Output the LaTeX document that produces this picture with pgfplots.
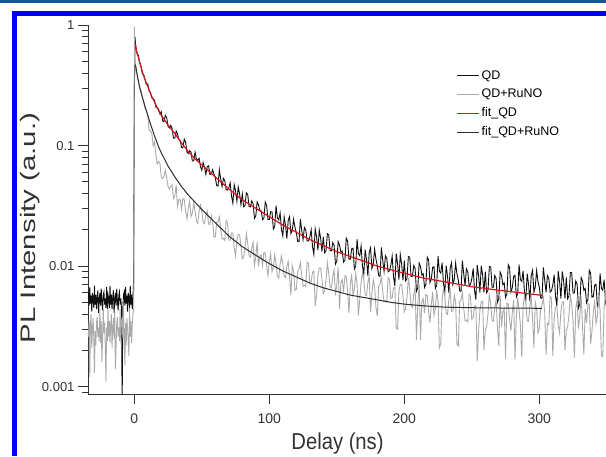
\documentclass[border=0pt]{standalone}
\usepackage{pgfplots}
\pgfplotsset{compat=1.18}
\usepackage{fontspec}
\setmainfont{Liberation Sans}
\usepackage{graphicx}
\definecolor{rawgray}{RGB}{170,170,170}
\definecolor{rawblack}{RGB}{15,15,15}
\definecolor{fitred}{RGB}{205,25,30}
\definecolor{fitdark}{RGB}{45,45,45}
\definecolor{axisgray}{RGB}{50,50,50}
\definecolor{frameblue}{RGB}{0,0,245}
\definecolor{barblue}{RGB}{20,85,155}
\begin{document}
\begin{tikzpicture}
\useasboundingbox (0pt,0pt) rectangle (606pt,456pt);
\fill[barblue] (0pt,453pt) rectangle (606pt,456pt);
\fill[frameblue] (12pt,440pt) rectangle (606pt,445pt);
\fill[frameblue] (12pt,0pt) rectangle (17pt,445pt);
\begin{axis}[
  width=518pt, height=369pt, scale only axis,
  at={(88pt,62pt)}, anchor=south west,
  xmin=-34.3, xmax=349.4,
  ymode=log, ymin=0.00087, ymax=1,
  axis x line*=bottom, axis y line*=left,
  axis line style={axisgray, line width=0.8pt},
  every tick/.style={axisgray, line width=0.8pt},
  tick align=outside,
  major tick length=10pt, minor tick length=5.5pt,
  xtick={0,100,200,300}, xticklabels={0,100,200,300},
  xminorticks=false,
  ytick={0.001,0.01,0.1,1}, yticklabels={0.001,0.01,0.1,1},
  minor ytick={0.0009,0.002,0.003,0.004,0.005,0.006,0.007,0.008,0.009,0.02,0.03,0.04,0.05,0.06,0.07,0.08,0.09,0.2,0.3,0.4,0.5,0.6,0.7,0.8,0.9},
  /pgf/number format/assume math mode=true,
  xticklabel style={font=\fontsize{14}{14}\selectfont, text=axisgray, yshift=-6pt},
  yticklabel style={font=\fontsize{13}{13}\selectfont, text=axisgray},
  xlabel={\scalebox{0.88}[1]{Delay (ns)}},
  xlabel style={font=\fontsize{23}{23}\selectfont, text=axisgray, at={(axis description cs:0.4817,-0.1355)}, anchor=center},
  ylabel={\scalebox{1.4}[1]{PL Intensity (a.u.)}},
  ylabel style={font=\fontsize{21}{21}\selectfont, text=axisgray, at={(axis description cs:-0.112,0.45)}, anchor=center},
  legend style={draw=none, fill=none, at={(axis description cs:0.7104,0.883)}, anchor=north west, inner sep=0pt,
    font=\fontsize{12.5}{13}\selectfont, row sep=4.5pt},
  legend cell align=left,
]
\addplot[rawblack, line width=0.9pt, legend image code/.code={\draw[draw=rawblack, line width=1.4pt] (0pt,0pt) -- (22pt,0pt);}] coordinates {
(-34,0.0061)(-33.5,0.0047)(-33,0.0067)(-32.5,0.0049)(-32,0.0057)(-31.5,0.0042)(-31,0.0060)(-30.5,0.0054)(-30,0.0045)(-29.5,0.0069)
(-29,0.0048)(-28.5,0.0058)(-28,0.0044)(-27.5,0.0055)(-27,0.0063)(-26.5,0.0041)(-26,0.0052)(-25.5,0.0060)(-25,0.0047)(-24.5,0.0065)
(-24,0.0051)(-23.5,0.0043)(-23,0.0057)(-22.5,0.0061)(-22,0.0048)(-21.5,0.0054)(-21,0.0045)(-20.5,0.0067)(-20,0.0044)(-19.5,0.0058)
(-19,0.0054)(-18.5,0.0045)(-18,0.0069)(-17.5,0.0048)(-17,0.0058)(-16.5,0.0044)(-16,0.0055)(-15.5,0.0063)(-15,0.0041)(-14.5,0.0052)
(-14,0.0060)(-13.5,0.0047)(-13,0.0065)(-12.5,0.0051)(-12,0.0043)(-11.5,0.0057)(-11,0.0061)(-10.5,0.0048)(-10,0.0054)(-9.5,0.0045)
(-9,0.0007)(-8.5,0.0044)(-8,0.0058)(-7.5,0.0061)(-7,0.0047)(-6.5,0.0067)(-6,0.0049)(-5.5,0.0057)(-5,0.0042)(-4.5,0.0060)
(-4,0.0054)(-3.5,0.0045)(-3,0.0069)(-2.5,0.0048)(-2,0.0058)(-1.5,0.0044)(-1,0.0055)(-0.5,0.0075)(0,0.25)(0.5,0.80)
(1,0.679)(2,0.578)(3,0.560)(4,0.485)(5,0.453)(6,0.393)(7,0.386)(8,0.352)(9,0.321)(10,0.324)
(11,0.284)(12,0.274)(13,0.248)(14,0.244)(15,0.237)(16,0.208)(17,0.206)(18,0.200)(19,0.183)
(20,0.191)(21,0.160)(22,0.158)(23,0.178)(24,0.170)(25,0.144)(26,0.140)(27,0.147)(28,0.139)(29,0.115)(30,0.115)(31,0.132)(32,0.124)(33,0.113)(34,0.110)(35,0.0966)(36,0.0957)(37,0.113)(38,0.107)(39,0.0883)
(40,0.0861)(41,0.0904)(42,0.0883)(43,0.0745)(44,0.0745)(45,0.0881)(46,0.0776)(47,0.0752)(48,0.0785)(49,0.0670)(50,0.0624)(51,0.0724)(52,0.0661)(53,0.0578)(54,0.0668)(55,0.0679)(56,0.0575)(57,0.0581)(58,0.0631)(59,0.0578)
(60,0.0540)(61,0.0468)(62,0.0461)(63,0.0631)(64,0.0530)(65,0.0457)(66,0.0535)(67,0.0513)(68,0.0433)(69,0.0427)(70,0.0445)(71,0.0491)(72,0.0382)(73,0.0333)(74,0.0474)(75,0.0422)(76,0.0345)(77,0.0454)(78,0.0398)(79,0.0323)
(80,0.0396)(81,0.0311)(82,0.0319)(83,0.0406)(84,0.0393)(85,0.0313)(86,0.0310)(87,0.0348)(88,0.0330)(89,0.0249)(90,0.0261)(91,0.0341)(92,0.0321)(93,0.0288)(94,0.0288)(95,0.0243)(96,0.0250)(97,0.0340)(98,0.0319)(99,0.0244)
(100,0.0244)(101,0.0283)(102,0.0282)(103,0.0203)(104,0.0212)(105,0.0318)(106,0.0251)(107,0.0242)(108,0.0276)(109,0.0202)(110,0.0178)(111,0.0256)(112,0.0218)(113,0.0169)(114,0.0240)(115,0.0258)(116,0.0186)(117,0.0197)(118,0.0245)(119,0.0210)
(120,0.0190)(121,0.0161)(122,0.0159)(123,0.0245)(124,0.0199)(125,0.0166)(126,0.0209)(127,0.0200)(128,0.0162)(129,0.0162)(130,0.0174)(131,0.0201)(132,0.0146)(133,0.0125)(134,0.0204)(135,0.0175)(136,0.0136)(137,0.0199)(138,0.0171)(139,0.0132)
(140,0.0176)(141,0.0129)(142,0.0134)(143,0.0186)(144,0.0182)(145,0.0135)(146,0.0134)(147,0.0157)(148,0.0149)(149,0.0104)(150,0.0110)(151,0.0160)(152,0.0150)(153,0.0131)(154,0.0133)(155,0.0108)(156,0.0112)(157,0.0171)(158,0.0161)(159,0.0114)
(160,0.0114)(161,0.0139)(162,0.0141)(163,0.00946)(164,0.0100)(165,0.0167)(166,0.0127)(167,0.0122)(168,0.0147)(169,0.0100)(170,0.00859)(171,0.0137)(172,0.0113)(173,0.00832)(174,0.0130)(175,0.0142)(176,0.00955)(177,0.0104)(178,0.0138)(179,0.0114)
(180,0.0101)(181,0.00834)(182,0.00824)(183,0.0143)(184,0.0112)(185,0.00906)(186,0.0122)(187,0.0116)(188,0.00899)(189,0.00914)(190,0.0101)(191,0.0121)(192,0.00820)(193,0.00687)(194,0.0127)(195,0.0105)(196,0.00773)(197,0.0125)(198,0.0105)(199,0.00764)
(200,0.0111)(201,0.00755)(202,0.00793)(203,0.0120)(204,0.0119)(205,0.00822)(206,0.00824)(207,0.0101)(208,0.00957)(209,0.00619)(210,0.00662)(211,0.0106)(212,0.00995)(213,0.00843)(214,0.00865)(215,0.00667)(216,0.00705)(217,0.0119)(218,0.0113)(219,0.00731)
(220,0.00785)(221,0.00975)(222,0.00991)(223,0.00653)(224,0.00695)(225,0.0121)(226,0.00908)(227,0.00877)(228,0.0107)(229,0.00715)(230,0.00610)(231,0.0101)(232,0.00824)(233,0.00600)(234,0.00971)(235,0.0107)(236,0.00705)(237,0.00774)(238,0.0106)(239,0.00863)
(240,0.00767)(241,0.00625)(242,0.00618)(243,0.0111)(244,0.00865)(245,0.00690)(246,0.00951)(247,0.00899)(248,0.00690)(249,0.00705)(250,0.00785)(251,0.00957)(252,0.00634)(253,0.00528)(254,0.0102)(255,0.00839)(256,0.00604)(257,0.0101)(258,0.00847)(259,0.00605)
(260,0.00902)(261,0.00601)(262,0.00634)(263,0.00993)(264,0.00986)(265,0.00667)(266,0.00670)(267,0.00837)(268,0.00791)(269,0.00500)(270,0.00537)(271,0.00893)(272,0.00836)(273,0.00702)(274,0.00724)(275,0.00551)(276,0.00585)(277,0.0103)(278,0.00975)(279,0.00612)
(280,0.00664)(281,0.00824)(282,0.00839)(283,0.00555)(284,0.00590)(285,0.0103)(286,0.00774)(287,0.00748)(288,0.00914)(289,0.00612)(290,0.00522)(291,0.00865)(292,0.00710)(293,0.00516)(294,0.00837)(295,0.00925)(296,0.00610)(297,0.00671)(298,0.00918)(299,0.00750)
(300,0.00668)(301,0.00546)(302,0.00541)(303,0.00975)(304,0.00759)(305,0.00607)(306,0.00837)(307,0.00794)(308,0.00610)(309,0.00624)(310,0.00697)(311,0.00849)(312,0.00564)(313,0.00469)(314,0.00908)(315,0.00746)(316,0.00538)(317,0.00904)(318,0.00755)(319,0.00540)
(320,0.00805)(321,0.00537)(322,0.00568)(323,0.00887)(324,0.00883)(325,0.00597)(326,0.00601)(327,0.00752)(328,0.00710)(329,0.00449)(330,0.00483)(331,0.00804)(332,0.00753)(333,0.00631)(334,0.00652)(335,0.00497)(336,0.00527)(337,0.00925)(338,0.00879)(339,0.00552)
(340,0.00558)(341,0.00695)(342,0.00708)(343,0.00467)(344,0.00498)(345,0.00869)(346,0.00653)(347,0.00632)(348,0.00771)(349,0.00516)(350,0.00442)
};
\addlegendentry{QD}
\addplot[rawgray, line width=0.9pt, legend image code/.code={\draw[draw=rawgray, line width=0.9pt] (0pt,0pt) -- (22pt,0pt);}] coordinates {
(-34,0.0026)(-33.5,0.0035)(-33,0.0012)(-32.5,0.0033)(-32,0.0040)(-31.5,0.0021)(-31,0.0030)(-30.5,0.0037)(-30,0.0025)(-29.5,0.0013)
(-29,0.0029)(-28.5,0.0022)(-28,0.0034)(-27.5,0.0038)(-27,0.0026)(-26.5,0.0031)(-26,0.0024)(-25.5,0.0044)(-25,0.0023)(-24.5,0.0035)
(-24,0.0016)(-23.5,0.0025)(-23,0.0044)(-22.5,0.0028)(-22,0.0034)(-21.5,0.0022)(-21,0.0011)(-20.5,0.0031)(-20,0.0024)(-19.5,0.0045)
(-19,0.0026)(-18.5,0.0035)(-18,0.0023)(-17.5,0.0033)(-17,0.0040)(-16.5,0.0021)(-16,0.0030)(-15.5,0.0037)(-15,0.0025)(-14.5,0.0042)
(-14,0.0014)(-13.5,0.0022)(-13,0.0034)(-12.5,0.0038)(-12,0.0026)(-11.5,0.0031)(-11,0.0024)(-10.5,0.0044)(-10,0.0023)(-9.5,0.0035)
(-9,0.0038)(-8.5,0.0025)(-8,0.0044)(-7.5,0.0028)(-7,0.0015)(-6.5,0.0034)(-6,0.0022)(-5.5,0.0037)(-5,0.0031)(-4.5,0.0024)
(-4,0.0018)(-3.5,0.0045)(-3,0.0026)(-2.5,0.0035)(-2,0.0023)(-1.5,0.0033)(-1,0.0040)(-0.4,0.0045)(0,0.97)(0.6,0.55)
(1,0.421)(2,0.389)(3,0.340)(4,0.295)(5,0.288)(6,0.248)(7,0.233)(8,0.203)(9,0.195)(10,0.175)
(11,0.135)(12,0.132)(13,0.126)(14,0.0998)(15,0.107)(16,0.0839)(17,0.0705)(18,0.0738)(19,0.0710)
(20,0.0545)(21,0.0532)(22,0.0557)(23,0.0622)(24,0.0540)(25,0.0458)(26,0.0435)(27,0.0462)(28,0.0472)(29,0.0362)(30,0.0381)(31,0.0471)(32,0.0313)(33,0.0357)(34,0.0357)(35,0.0296)(36,0.0363)(37,0.0356)(38,0.0289)(39,0.0246)
(40,0.0301)(41,0.0347)(42,0.0258)(43,0.0274)(44,0.0333)(45,0.0286)(46,0.0237)(47,0.0226)(48,0.0282)(49,0.0321)(50,0.0284)(51,0.0230)(52,0.0225)(53,0.0267)(54,0.0286)(55,0.0223)(56,0.0222)(57,0.0264)(58,0.0237)(59,0.0174)
(60,0.0175)(61,0.0230)(62,0.0233)(63,0.0256)(64,0.0203)(65,0.0168)(66,0.0169)(67,0.0163)(68,0.0238)(69,0.0230)(70,0.0165)(71,0.0164)(72,0.0189)(73,0.0188)(74,0.0141)(75,0.0122)(76,0.0165)(77,0.0184)(78,0.0180)(79,0.0148)
(80,0.0115)(81,0.0119)(82,0.0140)(83,0.0186)(84,0.0154)(85,0.0122)(86,0.0119)(87,0.0141)(88,0.0156)(89,0.0101)(90,0.0120)(91,0.0158)(92,0.00998)(93,0.0121)(94,0.0124)(95,0.0101)(96,0.0130)(97,0.0128)(98,0.0100)(99,0.00838)
(100,0.0107)(101,0.0127)(102,0.00897)(103,0.00975)(104,0.0124)(105,0.0104)(106,0.00828)(107,0.00794)(108,0.0104)(109,0.0121)(110,0.0106)(111,0.00824)(112,0.00805)(113,0.00993)(114,0.0109)(115,0.00811)(116,0.00573)(117,0.0101)(118,0.00897)(119,0.00628)
(120,0.00640)(121,0.00902)(122,0.00944)(123,0.0107)(124,0.00838)(125,0.00681)(126,0.00695)(127,0.00676)(128,0.0108)(129,0.0105)(130,0.00726)(131,0.00740)(132,0.00893)(133,0.00908)(134,0.00467)(135,0.00578)(136,0.00836)(137,0.00966)(138,0.00964)(139,0.00780)
(140,0.00593)(141,0.00627)(142,0.00766)(143,0.0107)(144,0.00877)(145,0.00676)(146,0.00661)(147,0.00820)(148,0.00933)(149,0.00573)(150,0.00703)(151,0.00982)(152,0.00440)(153,0.00735)(154,0.00771)(155,0.00610)(156,0.00832)(157,0.00820)(158,0.00627)(159,0.00410)
(160,0.00697)(161,0.00857)(162,0.00577)(163,0.00644)(164,0.00869)(165,0.00708)(166,0.00389)(167,0.00532)(168,0.00735)(169,0.00885)(170,0.00773)(171,0.00579)(172,0.00568)(173,0.00731)(174,0.00830)(175,0.00417)(176,0.00592)(177,0.00769)(178,0.00681)(179,0.00454)
(180,0.00385)(181,0.00681)(182,0.00710)(183,0.00802)(184,0.00624)(185,0.00507)(186,0.00516)(187,0.00502)(188,0.00802)(189,0.00780)(190,0.00538)(191,0.00547)(192,0.00659)(193,0.00668)(194,0.00306)(195,0.00300)(196,0.00612)(197,0.00706)(198,0.00706)(199,0.00570)
(200,0.00417)(201,0.00444)(202,0.00553)(203,0.00807)(204,0.00640)(205,0.00472)(206,0.00456)(207,0.00583)(208,0.00676)(209,0.00244)(210,0.00486)(211,0.00708)(212,0.00244)(213,0.00508)(214,0.00536)(215,0.00409)(216,0.00583)(217,0.00571)(218,0.00420)(219,0.00340)
(220,0.00481)(221,0.00611)(222,0.00390)(223,0.00446)(224,0.00631)(225,0.00500)(226,0.00211)(227,0.00230)(228,0.00527)(229,0.00653)(230,0.00562)(231,0.00406)(232,0.00397)(233,0.00533)(234,0.00622)(235,0.00422)(236,0.00425)(237,0.00575)(238,0.00505)(239,0.00226)
(240,0.00217)(241,0.00505)(242,0.00527)(243,0.00600)(244,0.00448)(245,0.00352)(246,0.00356)(247,0.00344)(248,0.00582)(249,0.00557)(250,0.00363)(251,0.00372)(252,0.00462)(253,0.00471)(254,0.00164)(255,0.00283)(256,0.00432)(257,0.00508)(258,0.00512)(259,0.00201)
(260,0.00294)(261,0.00318)(262,0.00402)(263,0.00594)(264,0.00478)(265,0.00356)(266,0.00349)(267,0.00451)(268,0.00528)(269,0.00305)(270,0.00218)(271,0.00570)(272,0.00315)(273,0.00416)(274,0.00444)(275,0.00171)(276,0.00492)(277,0.00486)(278,0.00361)(279,0.00292)
(280,0.00414)(281,0.00526)(282,0.00168)(283,0.00384)(284,0.00544)(285,0.00432)(286,0.00324)(287,0.00177)(288,0.00458)(289,0.00568)(290,0.00490)(291,0.00354)(292,0.00347)(293,0.00466)(294,0.00543)(295,0.00368)(296,0.00209)(297,0.00504)(298,0.00442)(299,0.00280)
(300,0.00302)(301,0.00448)(302,0.00473)(303,0.00545)(304,0.00412)(305,0.00184)(306,0.00335)(307,0.00327)(308,0.00562)(309,0.00545)(310,0.00180)(311,0.00368)(312,0.00457)(313,0.00466)(314,0.00324)(315,0.00280)(316,0.00427)(317,0.00504)(318,0.00507)(319,0.00200)
(320,0.00292)(321,0.00315)(322,0.00398)(323,0.00589)(324,0.00473)(325,0.00354)(326,0.00174)(327,0.00448)(328,0.00525)(329,0.00303)(330,0.00385)(331,0.00566)(332,0.00313)(333,0.00185)(334,0.00442)(335,0.00340)(336,0.00490)(337,0.00484)(338,0.00226)(339,0.00291)
(340,0.00412)(341,0.00524)(342,0.00335)(343,0.00383)(344,0.00543)(345,0.00431)(346,0.00182)(347,0.00177)(348,0.00457)(349,0.00566)(350,0.00490)
};
\addlegendentry{QD+RuNO}
\addplot[fitred, line width=1.2pt, legend image code/.code={\draw[draw=fitred, line width=1.2pt] (0pt,0pt) -- (22pt,0pt);}] coordinates {
(0.8,0.69)(1,0.661)(2,0.589)(3,0.537)(4,0.490)(5,0.447)(6,0.407)(7,0.378)(8,0.350)(9,0.329)(10,0.309)
(12,0.269)(15,0.229)(18,0.195)(20,0.178)(25,0.148)(30,0.126)(35,0.105)(40,0.0891)(45,0.0776)(50,0.0692)
(60,0.0550)(70,0.0437)(80,0.0355)(90,0.0302)(100,0.0257)(110,0.0219)(120,0.0191)(130,0.0166)(140,0.0148)(150,0.0132)
(160,0.0120)(170,0.0110)(180,0.0100)(190,0.00933)(200,0.00871)(215,0.00794)(230,0.00741)(250,0.00676)(270,0.00631)(285,0.00603)(302,0.00572)
};
\addlegendentry{fit\_QD}
\addplot[fitdark, line width=1pt, legend image code/.code={\draw[draw=fitdark, line width=1.1pt] (0pt,0pt) -- (22pt,0pt);}] coordinates {
(0.8,0.47)(1,0.46)(2,0.395)(3,0.345)(4,0.305)(5,0.275)(6,0.251)(7,0.229)(8,0.209)(9,0.193)(10,0.178)
(12,0.151)(15,0.120)(18,0.0977)(20,0.0871)(25,0.0676)(30,0.0550)(35,0.0457)(40,0.0389)(45,0.0339)(50,0.0295)
(60,0.0229)(70,0.0178)(80,0.0145)(90,0.0123)(100,0.0105)(110,0.00912)(120,0.00813)(130,0.00724)(140,0.00661)(150,0.00617)
(160,0.00575)(170,0.00550)(180,0.00525)(190,0.00501)(200,0.00484)(215,0.00468)(230,0.00457)(250,0.00452)(275,0.00449)(302,0.00447)
};
\addlegendentry{fit\_QD+RuNO}
\end{axis}
\end{tikzpicture}
\end{document}
